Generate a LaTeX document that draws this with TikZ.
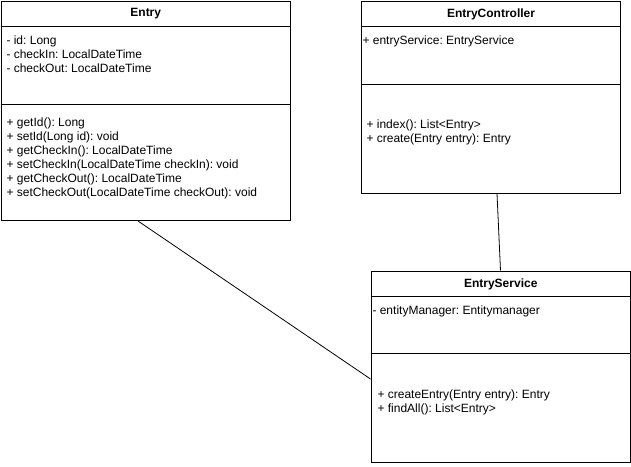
\documentclass[tikz,border=0pt]{standalone}
\usepackage{fontspec}
\setmainfont{Liberation Sans}
\usetikzlibrary{calc}
\frenchspacing

\begin{document}
\begin{tikzpicture}[x=1pt, y=-1pt,
	line width=1pt,
	classbox/.style = {draw,
		rectangle,
		anchor=north west,
		inner sep=0pt},
	title/.style = {font=\fontsize{12pt}{14pt}\selectfont\bfseries,
		inner sep=0pt},
	member/.style = {font=\fontsize{12pt}{14pt}\selectfont,
		anchor=base west,
		inner sep=0pt},
	link/.style = {line width=0.8pt}]
	
	\useasboundingbox (0,0) rectangle (631,466);
	
	% Entry
	\node[classbox, minimum width=289.5pt, minimum height=219pt] (entry) at (0.5,1) {};
	\draw ($(entry.north west)+(0,25)$) -- ($(entry.north east)+(0,25)$);
	\draw ($(entry.north west)+(0,103)$) -- ($(entry.north east)+(0,103)$);
	\node[title] (entry-t) at ($(entry.north)+(0,13)$) {Entry};
	\foreach \txt [count=\i] in {{- id: Long}, {- checkIn: LocalDateTime}, {- checkOut: LocalDateTime}}
		\node[member] (entry-a\i) at (6,30+14*\i) {\txt};
	\foreach \txt [count=\i] in {{+ getId(): Long}, {+ setId(Long id): void}, {+ getCheckIn(): LocalDateTime},
		{+ setCheckIn(LocalDateTime checkIn): void}, {+ getCheckOut(): LocalDateTime},
		{+ setCheckOut(LocalDateTime checkOut): void}}
		\node[member] (entry-m\i) at (6,112+14*\i) {\txt};
	
	% EntryController
	\node[classbox, minimum width=259pt, minimum height=191.5pt] (ctrl) at (361,1) {};
	\draw ($(ctrl.north west)+(0,25)$) -- ($(ctrl.north east)+(0,25)$);
	\draw ($(ctrl.north west)+(0,83)$) -- ($(ctrl.north east)+(0,83)$);
	\node[title] (ctrl-t) at ($(ctrl.north)+(0,13)$) {EntryController};
	\node[member] (ctrl-a1) at (362,44) {+ entryService: EntryService};
	\foreach \txt [count=\i] in {{+ index(): List<Entry>}, {+ create(Entry entry): Entry}}
		\node[member] (ctrl-m\i) at (366,114+14*\i) {\txt};
	
	% EntryService
	\node[classbox, minimum width=259.5pt, minimum height=191.5pt] (service) at (370.5,270.5) {};
	\draw ($(service.north west)+(0,25.5)$) -- ($(service.north east)+(0,25.5)$);
	\draw ($(service.north west)+(0,82.5)$) -- ($(service.north east)+(0,82.5)$);
	\node[title] (service-t) at ($(service.north)+(0,13.5)$) {EntryService};
	\node[member] (service-a1) at (372,314) {- entityManager: Entitymanager};
	\foreach \txt [count=\i] in {{+ createEntry(Entry entry): Entry}, {+ findAll(): List<Entry>}}
		\node[member] (service-m\i) at (377,384+14*\i) {\txt};
	
	% Associations
	\draw[link] ($(entry.south west)+(137.5,0)$) -- ($(service.north west)+(0,108.5)$);
	\draw[link] ($(ctrl.south west)+(136,0)$) -- ($(service.north west)+(130,0)$);
	
\end{tikzpicture}
\end{document}
